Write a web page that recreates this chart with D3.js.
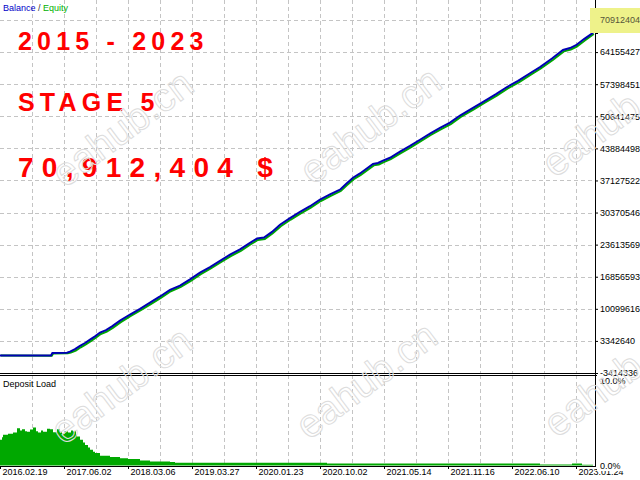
<!DOCTYPE html>
<html>
<head>
<meta charset="utf-8">
<script src="https://cdn.jsdelivr.net/npm/d3@7"></script>
<style>
  body { margin: 0; background: #fff; }
  svg { display: block; }
</style>
</head>
<body>
<div id="chart"></div>
<script>
// deal number of each point on the x axis (the tester graph is by deal, not by time)
const balanceDeals = [0,255,262,335,350,375,400,425,450,475,500,530,560,600,650,700,750,800,850,900,
  950,1000,1050,1100,1150,1200,1250,1285,1320,1360,1400,1450,1500,1550,1600,1650,1700,1730,1765,1800,
  1865,1890,1915,1950,2000,2050,2100,2150,2200,2250,2300,2365,2420,2480,2535,2590,2650,2700,2760,2815,
  2850,2880,2920,2965];
// millions of $
const balanceValues = [0.25,0.25,0.80,0.85,1.10,1.60,2.30,2.90,3.60,4.30,5.10,5.60,6.40,7.60,8.90,10.10,11.40,12.70,14.10,15.00,
  16.30,17.70,18.90,20.20,21.50,22.60,24.00,24.90,25.10,26.30,27.80,29.20,30.50,31.70,33.10,34.20,35.20,36.40,37.70,38.60,
  40.60,40.80,41.30,41.90,43.20,44.40,45.70,47.00,48.20,49.30,50.80,52.40,53.80,55.30,56.80,58.10,59.70,61.00,62.80,64.60,
  65.00,65.60,66.90,68.20];
const equityValues = [0.25,0.20,0.70,0.75,0.90,1.30,2.00,2.60,3.30,4.00,4.80,5.30,6.10,7.30,8.60,9.80,11.10,12.40,13.80,14.70,
  16.00,17.40,18.60,19.90,21.20,22.30,23.70,24.60,24.80,26.00,27.50,28.90,30.20,31.40,32.80,33.90,34.90,36.10,37.40,38.30,
  40.30,40.50,41.00,41.60,42.90,44.10,45.40,46.70,47.90,49.00,50.50,52.10,53.50,55.00,56.50,57.80,59.40,60.70,62.50,64.30,
  64.70,65.30,66.60,68.00];

const loadDeals = [0,10,15,40,65,85,100,110,125,135,150,165,180,190,205,215,235,250,265,285,
  300,310,325,340,355,365,380,385,400,415,425,440,450,465,475,500,550,600,640,700,
  750,850,875,1635,2700,2860,2910,2965];
// percent
const loadValues = [3.0,3.3,3.6,3.7,3.85,4.35,4.1,4.25,4.0,3.95,4.2,4.45,4.0,3.85,4.1,3.95,4.3,4.25,3.9,4.25,
  3.95,3.7,4.0,3.85,4.1,4.0,3.6,3.4,3.0,2.7,2.4,2.1,1.83,1.6,1.45,1.13,0.98,0.86,0.75,0.58,
  0.47,0.40,0.32,0.22,0.12,0.22,0.10,0.10];

const priceTicks = [70912404,64155427,57398451,50641475,43884498,37127522,30370546,23613569,16856593,10099616,3342640,-3414336];
const dateLabels = ['2016.02.19','2017.06.02','2018.03.06','2019.03.27','2020.01.23','2020.10.02','2021.05.14','2021.11.16','2022.06.10','2023.01.24'];
const dateDeals = [0,320,640,960,1280,1600,1920,2240,2560,2880];
const titleLines = ['2015 - 2023', 'STAGE 5', '70,912,404 $'];

const width = 640;
const height = 480;
const font = '"Liberation Sans", Arial, sans-serif';
const axisX = 595;
const main = {top: 20, bottom: 373};
const load = {top: 375, bottom: 466};

const svg = d3.select('#chart')
  .append('svg')
  .attr('width', width)
  .attr('height', height)
  .attr('viewBox', [0, 0, width, height]);

const x = d3.scaleLinear()
  .domain([0, 2975])
  .range([0, axisX]);

const y = d3.scaleLinear()
  .domain([d3.min(priceTicks), d3.max(priceTicks)])
  .range([main.bottom, main.top]);

const yLoad = d3.scaleLinear()
  .domain([0, 10])
  .range([load.bottom - 0.5, 380]);

// grid
const grid = svg.append('g')
  .attr('stroke', '#c4c4c4')
  .attr('stroke-dasharray', '4,3')
  .attr('shape-rendering', 'crispEdges');

grid.selectAll('line.h')
  .data(priceTicks.slice(0, -1))
  .join('line')
    .attr('class', 'h')
    .attr('x1', 0).attr('x2', axisX)
    .attr('y1', d => Math.round(y(d)) + 0.5)
    .attr('y2', d => Math.round(y(d)) + 0.5);

const gridDeals = d3.range(160, 2975, 160);
grid.selectAll('line.v')
  .data(gridDeals)
  .join('line')
    .attr('class', 'v')
    .attr('x1', d => Math.round(x(d)) + 0.5)
    .attr('x2', d => Math.round(x(d)) + 0.5)
    .attr('y1', 0).attr('y2', main.bottom);

grid.selectAll('line.v2')
  .data(gridDeals)
  .join('line')
    .attr('class', 'v2')
    .attr('x1', d => Math.round(x(d)) + 0.5)
    .attr('x2', d => Math.round(x(d)) + 0.5)
    .attr('y1', load.top).attr('y2', load.bottom);

// red title texts
svg.append('g')
  .attr('fill', '#ff0000')
  .attr('font-family', font)
  .attr('font-weight', 'bold')
  .selectAll('text')
  .data(titleLines)
  .join('text')
    .attr('x', 18)
    .attr('y', (d, i) => [50, 111, 177][i])
    .attr('font-size', (d, i) => i === 2 ? 28 : 25)
    .attr('letter-spacing', (d, i) => i === 2 ? 8.3 : 5.2)
    .text(d => d);

// balance / equity
const balance = balanceDeals.map((d, i) => ({deal: d, bal: balanceValues[i], eq: equityValues[i]}));

svg.append('path')
  .datum(balance)
  .attr('fill', 'none')
  .attr('stroke', '#00a800')
  .attr('stroke-width', 2)
  .attr('d', d3.line().x(d => x(d.deal) + 0.8).y(d => y(d.eq * 1e6)));

svg.append('path')
  .datum(balance)
  .attr('fill', 'none')
  .attr('stroke', '#0000b4')
  .attr('stroke-width', 2)
  .attr('d', d3.line().x(d => x(d.deal)).y(d => y(d.bal * 1e6)));

// deposit load
const loadData = loadDeals.map((d, i) => ({deal: d, v: loadValues[i]}));
svg.append('path')
  .datum(loadData)
  .attr('fill', '#00a800')
  .attr('d', d3.area()
    .curve(d3.curveStepAfter)
    .x(d => x(d.deal))
    .y0(yLoad(0))
    .y1(d => yLoad(d.v)));

// frames
const frame = svg.append('g')
  .attr('stroke', '#000')
  .attr('shape-rendering', 'crispEdges');
frame.append('line').attr('x1', 0).attr('x2', axisX).attr('y1', main.bottom + 0.5).attr('y2', main.bottom + 0.5);
frame.append('line').attr('x1', 0).attr('x2', axisX + 2).attr('y1', load.top + 0.5).attr('y2', load.top + 0.5);
frame.append('line').attr('x1', 0).attr('x2', axisX).attr('y1', load.bottom + 0.5).attr('y2', load.bottom + 0.5);
frame.append('line').attr('x1', axisX + 0.5).attr('x2', axisX + 0.5).attr('y1', 0).attr('y2', load.bottom + 1);

// legend
const legend = svg.append('text')
  .attr('x', 3).attr('y', 11)
  .attr('font-family', font)
  .attr('font-size', 9);
legend.append('tspan').attr('fill', '#0000c8').text('Balance');
legend.append('tspan').attr('fill', '#333').text(' / ');
legend.append('tspan').attr('fill', '#00b000').text('Equity');

svg.append('text')
  .attr('x', 3).attr('y', 387)
  .attr('font-family', font)
  .attr('font-size', 9)
  .attr('fill', '#000')
  .text('Deposit Load');

// current value marker
const last = balance[balance.length - 1];
svg.append('rect')
  .attr('x', 590).attr('y', 8)
  .attr('width', 50).attr('height', 25)
  .attr('fill', '#eef28a');
svg.append('line')
  .attr('x1', axisX).attr('x2', axisX + 3)
  .attr('y1', Math.round(y(last.bal * 1e6)) + 0.5)
  .attr('y2', Math.round(y(last.bal * 1e6)) + 0.5)
  .attr('stroke', '#000');

// right axis
const yAxis = svg.append('g')
  .attr('transform', `translate(${axisX},0)`)
  .call(d3.axisRight(y).tickValues(priceTicks).tickSize(3).tickPadding(2).tickFormat(d => String(d)))
  .attr('font-family', font)
  .attr('font-size', 9);
yAxis.select('.domain').remove();
yAxis.selectAll('.tick').filter((d, i) => i === 0).select('line').remove();
yAxis.selectAll('text').attr('fill', (d, i) => i === 0 ? '#55553a' : '#000');

// bottom axis
const xAxis = svg.append('g')
  .attr('transform', `translate(0,${load.bottom})`)
  .call(d3.axisBottom(x).tickValues(dateDeals).tickSize(3).tickFormat((d, i) => dateLabels[i]))
  .attr('font-family', font)
  .attr('font-size', 9);
xAxis.select('.domain').remove();
xAxis.selectAll('text')
  .attr('text-anchor', 'start')
  .attr('x', 2)
  .attr('y', 3)
  .attr('fill', '#000');

// deposit load axis
svg.append('rect')
  .attr('x', axisX + 2).attr('y', 460)
  .attr('width', 45).attr('height', 11)
  .attr('fill', '#fff');
svg.append('g')
  .attr('font-family', font)
  .attr('font-size', 9)
  .selectAll('text')
  .data([10, 0])
  .join('text')
    .attr('x', 600)
    .attr('y', d => yLoad(d) + 3.5)
    .text(d => d.toFixed(1) + '%');

// watermark
const marks = [[122, 128], [370, 125], [612, 118], [121, 385], [366, 380], [614, 378]];
svg.append('g')
  .attr('font-family', font)
  .attr('font-size', 40)
  .attr('fill', 'none')
  .attr('stroke', '#dcdcdc')
  .attr('stroke-width', 1)
  .selectAll('text')
  .data(marks)
  .join('text')
    .attr('text-anchor', 'middle')
    .attr('dominant-baseline', 'central')
    .attr('transform', d => `translate(${d[0]},${d[1]}) rotate(-37)`)
    .text('eahub.cn');
</script>
</body>
</html>
